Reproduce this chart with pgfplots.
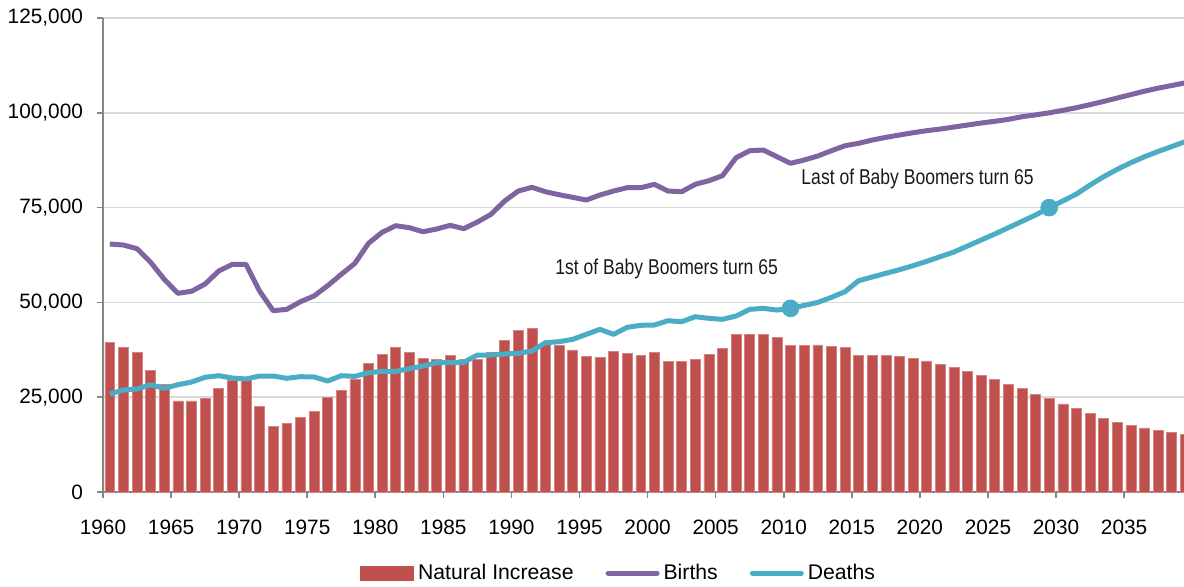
\documentclass[border=0pt]{standalone}
\usepackage{fontspec}
\setmainfont{Liberation Sans}
\newfontfamily\narrowfont{Liberation Sans}[FakeStretch=0.82]
\usepackage{pgfplots}
\usepackage{pgfplotstable}
\pgfplotsset{compat=1.18}

\definecolor{nired}{HTML}{C0504D}
\definecolor{birthpurple}{HTML}{8064A2}
\definecolor{deathblue}{HTML}{4BACC6}
\definecolor{gridgray}{HTML}{D9D9D9}
\definecolor{axisgray}{HTML}{868686}

% year, natural increase, births, deaths
\pgfplotstableread{
year ni births deaths
1960 39550 65400 25840
1961 38050 65130 26900
1962 36740 64160 27160
1963 32170 60570 28300
1964 28480 56090 27340
1965 24000 52400 28300
1966 24000 52930 29000
1967 24790 54850 30250
1968 27340 58280 30670
1969 29530 60040 30060
1970 29800 60040 29800
1971 22600 53000 30590
1972 17320 47810 30590
1973 18190 48170 29980
1974 19780 50180 30410
1975 21180 51690 30330
1976 25050 54400 29270
1977 26900 57400 30670
1978 29720 60300 30500
1979 34020 65580 31460
1980 36310 68480 31820
1981 38240 70230 31820
1982 36840 69700 32520
1983 35250 68640 33230
1984 35070 69350 34100
1985 36130 70320 34100
1986 35000 69440 34200
1987 35070 71200 36130
1988 36920 73230 36130
1989 40080 76740 36390
1990 42540 79370 36570
1991 43070 80350 37180
1992 39030 79190 39370
1993 38680 78400 39640
1994 37450 77710 40260
1995 35860 77000 41580
1996 35420 78320 42900
1997 37180 79370 41580
1998 36650 80250 43430
1999 36130 80250 43960
2000 36840 81140 44040
2001 34360 79370 45170
2002 34360 79190 44910
2003 34980 81140 46230
2004 36210 82090 45800
2005 37970 83410 45540
2006 41660 88150 46410
2007 41660 90000 48170
2008 41660 90190 48430
2009 40780 88420 47990
2010 38590 86680 48430
2011 38590 87550 49200
2012 38770 88600 50000
2013 38420 90000 51330
2014 38240 91320 52820
2015 36130 91950 55720
2016 36130 92820 56700
2017 36040 93530 57670
2018 35690 94140 58620
2019 35250 94750 59680
2020 34550 95280 60830
2021 33750 95720 62060
2022 32880 96250 63290
2023 31910 96780 64870
2024 30850 97310 66450
2025 29620 97750 68030
2026 28400 98270 69700
2027 27240 98970 71380
2028 25840 99450 73050
2029 24610 100000 75000
2030 23210 100650 76740
2031 22150 101350 78580
2032 20750 102150 80960
2033 19430 103000 83150
2034 18460 103900 85100
2035 17590 104800 86840
2036 16880 105700 88420
2037 16350 106500 89800
2038 15740 107200 91100
2039 15290 107900 92400
}\popdata

\begin{document}
\begin{tikzpicture}
\begin{axis}[
    at={(51.5pt,47pt)}, anchor=south west,
    scale only axis,
    width=540.5pt, height=237pt,
    xmin=1959.5, xmax=2038.9,
    ymin=0, ymax=125000,
    axis x line*=bottom,
    axis y line*=left,
    axis line style={draw=axisgray, line width=0.8pt, -},
    ymajorgrids,
    grid style={gridgray, line width=0.8pt},
    tick align=outside,
    major tick length=3pt,
    tick style={axisgray, line width=0.8pt},
    xtick={1959.5,1964.5,1969.5,1974.5,1979.5,1984.5,1989.5,1994.5,1999.5,2004.5,2009.5,2014.5,2019.5,2024.5,2029.5,2034.5},
    xticklabels={1960,1965,1970,1975,1980,1985,1990,1995,2000,2005,2010,2015,2020,2025,2030,2035},
    ytick={0,25000,50000,75000,100000,125000},
    scaled y ticks=false,
    ticklabel style={font=\fontsize{10.4}{12}\selectfont, text=black},
    xticklabel style={yshift=-7.5pt},
    yticklabel style={xshift=-3.5pt, /pgf/number format/.cd, fixed, precision=0, 1000 sep={,}, assume math mode=true},
    legend columns=3,
    legend style={draw=none, fill=none, at={(0.478,-0.171)}, anchor=center,
        font=\fontsize{10.6}{12}\selectfont,
        /tikz/every even column/.append style={column sep=14pt}},
]
\addplot[ybar, bar width=0.73, fill=nired, draw=nired!70!white, line width=0.3pt,
    legend image code/.code={\fill[nired] (0pt,-3.5pt) rectangle (26.5pt,3.5pt);}]
    table[x=year, y=ni] {\popdata};
\addlegendentry{Natural Increase}
\addplot[birthpurple, line width=2.5pt, line join=round, no marks,
    legend image code/.code={\draw[birthpurple, line width=2.5pt, line cap=round] (1pt,0pt) -- (25.5pt,0pt);}]
    table[x=year, y=births] {\popdata};
\addlegendentry{Births}
\addplot[deathblue, line width=2.5pt, line join=round, no marks,
    legend image code/.code={\draw[deathblue, line width=2.5pt, line cap=round] (1pt,0pt) -- (25.5pt,0pt);}]
    table[x=year, y=deaths] {\popdata};
\addlegendentry{Deaths}
\addplot[only marks, mark=*, mark size=4.2pt, deathblue, forget plot]
    coordinates {(2010,48430) (2029,75000)};
\node[font=\narrowfont\fontsize{10.7}{12}\selectfont, text=black!90] at (axis cs:2000.9,58800) {1st of Baby Boomers turn 65};
\node[font=\narrowfont\fontsize{10.7}{12}\selectfont, text=black!90] at (axis cs:2019.33,82540) {Last of Baby Boomers turn 65};
\end{axis}
\pgfresetboundingbox
\useasboundingbox (0,0) rectangle (592pt,293pt);
\end{tikzpicture}
\end{document}
